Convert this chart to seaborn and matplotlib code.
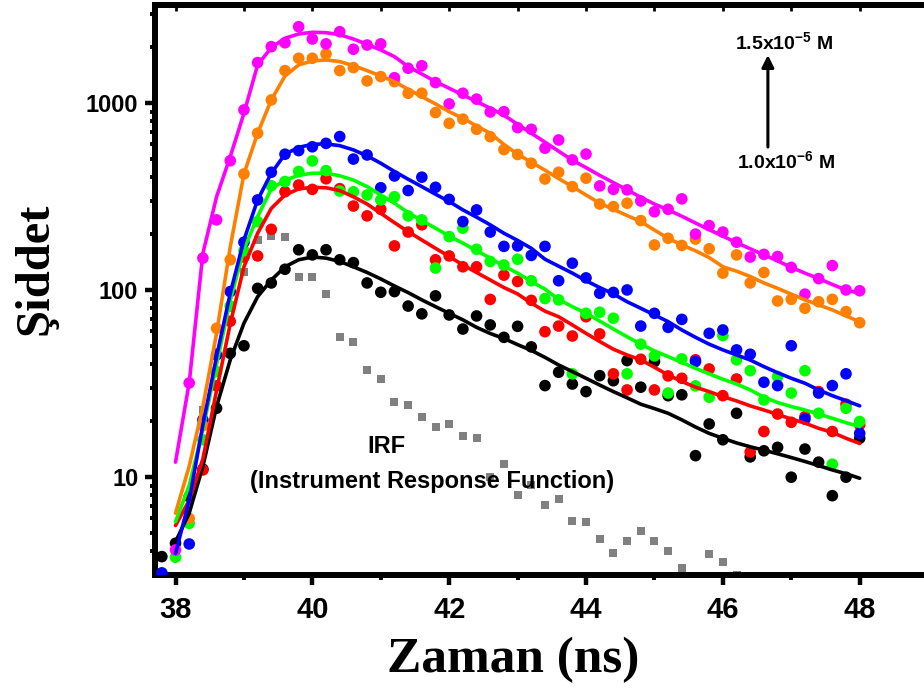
import numpy as np
import pandas as pd
import matplotlib
matplotlib.use("Agg")
import matplotlib.pyplot as plt
import seaborn as sns

# Time channels (ns)
time_ns = [37.8, 38.0, 38.2, 38.4, 38.6, 38.8, 39.0, 39.2, 39.4, 39.6,
           39.8, 40.0, 40.2, 40.4, 40.6, 40.8, 41.0, 41.2, 41.4, 41.6,
           41.8, 42.0, 42.2, 42.4, 42.6, 42.8, 43.0, 43.2, 43.4, 43.6,
           43.8, 44.0, 44.2, 44.4, 44.6, 44.8, 45.0, 45.2, 45.4, 45.6,
           45.8, 46.0, 46.2, 46.4, 46.6, 46.8, 47.0, 47.2, 47.4, 47.6,
           47.8, 48.0]
fit_time_ns = time_ns[1:]
nan = np.nan

# Measured decay counts, one array per concentration (magenta = 1.5e-5 M ... black = 1.0e-6 M)
counts_magenta = [nan, 4.07, 31.8, 148, 237, 491, 918, 1644, 2000, 2098,
                  2557, 2198, 2070, 2404, 1937, 2041, 2070, 1364, 1533, 1582,
                  1285, 988, 1127, 1048, 895, 898, 738, 723, 573, 634,
                  496, 533, 360, 345, 343, 299, 262, 270, 307, 199,
                  221, 204, 180, 150, 155, 151, 132, 95, 115, 135,
                  100, 99]
counts_orange = [nan, nan, 6.0, 18.8, 62.4, 145, 417, 689, 1038, 1489,
                 1734, 1734, 1829, 1489, 1545, 1312, 1383, 1300, 1127, 1127,
                 888, 778, 820, 723, 660, 563, 530, 476, 392, 426,
                 357, 396, 288, 279, 291, 235, 174, 189, 173, 187,
                 166, 123, 154, 109, 124, 87.3, 89.1, 79.8, 86.5, 89.1,
                 76.6, 66.8]
counts_blue = [3.07, nan, 4.38, 20.2, 44.9, 98, 180, 303, 426, 532,
               556, 583, 608, 661, 501, 527, 352, 407, 340, 401,
               354, 305, 232, 268, 204, 171, 172, 153, 171, 112,
               139, 116, 96, 97, 100, 64.1, 75, 63.1, 69.6, 41.4,
               58.6, 61.1, 47.8, 45.3, 32.1, 30.8, 50.3, 20.4, 28.1, 30.8,
               35.6, 17.1]
counts_green = [nan, 3.72, 5.65, 15.8, 36.6, 82, 162, 232, 361, 380,
                430, 490, 435, 338, 335, 322, 303, 315, 249, 237,
                131, 193, 214, 165, 142, 136, 146, 112, 90, 88.5,
                35.6, 75, 76, 70.6, 35.6, 51.3, 44.4, 28.1, 42.8, 30.7,
                26.7, 57, 42.3, 37, 25.8, 34.4, 28.1, 37.0, 21.9, 11.7,
                23.3, 19.8]
counts_red = [nan, nan, nan, 10.9, 30.7, 68, 150, 152, 211, 335,
              364, 345, 393, 348, 281, 249, 270, 172, 204, 223,
              145, 152, 133, 133, 89, 120, 111, 88, 59.8, 64.1,
              56.7, 71.9, 58.2, 35.6, 29.2, 42.6, 29.2, 34.7, 33.7, 42.3,
              37.8, 27.2, 33.4, 13.6, 17.5, 21.7, 19.6, 21, 28.6, 17.5,
              24.5, 19]
counts_black = [3.75, 4.42, 7.85, 11, 23.3, 45.8, 50.3, 102, 109, 129,
                164, 154, 164, 145, 140, 109, 97.2, 98, 82, 74.5,
                93, 73.5, 61.8, 72.6, 65, 55.8, 63.9, 49.6, 30.8, 36.3,
                31.4, 28.6, 34.8, 32.7, 41.9, 30.2, 41.4, 27.2, 27.5, 13.0,
                19.2, 15.8, 21.9, 12.8, 13.8, 14.4, 9.97, 14.1, 12.0, 7.94,
                9.97, 16.1]

# Fitted decay curves on the channels from 38.0 to 48.0 ns
fit_magenta = [12.0, 31.9, 157, 315, 516, 881, 1597, 1977, 2218, 2338,
               2388, 2376, 2318, 2198, 2059, 1920, 1769, 1564, 1428, 1300,
               1198, 1104, 1017, 937, 859, 769, 689, 617, 552, 494,
               451, 410, 375, 343, 313, 288, 268, 248, 228, 210,
               194, 179, 166, 154, 143, 132, 123, 115, 107, 100, 96]
fit_orange = [6.4, 11.4, 23.8, 58.6, 170, 417, 689, 1038, 1394, 1597,
              1678, 1698, 1664, 1584, 1489, 1394, 1300, 1183, 1081, 988,
              898, 828, 753, 689, 600, 532, 482, 437, 394, 357,
              322, 291, 270, 250, 232, 209, 189, 174, 162, 149,
              133, 126, 118, 109, 102, 95, 88.5, 83.2, 78.2, 72.6, 67.6]
fit_blue = [3.9, 7.5, 19, 44, 96, 185, 303, 421, 532, 579,
            601, 604, 591, 561, 521, 476, 430, 391, 357, 325,
            297, 268, 245, 223, 201, 184, 167, 146, 134, 123,
            112, 103, 95.2, 86.5, 79.8, 73.5, 67.7, 61.1, 55.8, 51.3,
            47.8, 44.9, 42.2, 38.9, 36.1, 33.7, 31.7, 29.2, 27.2, 25.6, 24.0]
fit_green = [5.77, 9.0, 18, 40, 88, 165, 247, 347, 387, 410,
             421, 421, 408, 387, 357, 322, 291, 259, 235, 214,
             194, 178, 162, 148, 134, 123, 111, 101, 89, 81.4,
             75, 68.2, 61.8, 56.2, 51.3, 47.2, 44.0, 41.0, 38.1, 35.6,
             33.3, 31.4, 29.2, 26.7, 25.0, 23.8, 22.8, 21.7, 20.6, 19.5, 18.6]
fit_red = [5.5, 7.5, 12.5, 29, 66, 133, 201, 273, 322, 347,
           354, 352, 340, 315, 288, 257, 229, 205, 185, 167,
           151, 136, 124, 113, 103, 95.2, 85, 77, 71.9, 65.0,
           58.6, 53.0, 48.2, 44.9, 42.3, 38.6, 35.1, 32.4, 30.2, 28.6,
           26.9, 25.5, 24.0, 22.8, 21.6, 20.4, 19.4, 18.2, 17.3, 16.1, 15.1]
fit_black = [4.5, 6.4, 11.4, 23.8, 42.3, 66.4, 92, 113, 133, 145,
             150, 148, 142, 133, 124, 114.5, 105, 96.8, 88.5, 81.4,
             75, 69.2, 63.1, 58.5, 55, 51, 47.5, 43.6, 39.7, 36.6,
             33.7, 31.0, 28.6, 26.5, 24.5, 23.2, 21.9, 20.2, 18.5, 17.1,
             16.1, 15.2, 14.5, 13.9, 13.3, 12.7, 12.1, 11.5, 10.9, 10.4, 9.84]

# Instrument response function
irf_time_ns = [38.4, 38.6, 38.8, 39.0, 39.2, 39.4, 39.6, 39.8, 40.0, 40.2,
               40.4, 40.6, 40.8, 41.0, 41.2, 41.4, 41.6, 41.8, 42.0, 42.2,
               42.4, 42.6, 42.8, 43.0, 43.2, 43.4, 43.6, 43.8, 44.0, 44.2,
               44.4, 44.6, 44.8, 45.0, 45.2, 45.4, 45.8, 46.0, 46.2]
irf_counts = [22.8, 46.8, 80, 124, 185, 194, 193, 117, 118, 95.3,
              55.8, 52.5, 37.3, 33.4, 25.3, 24.3, 21.0, 18.5, 19.1, 16.6,
              16.2, 10.0, 11.8, 8.0, 9.06, 7.08, 7.60, 5.84, 5.77, 4.64,
              3.94, 4.55, 5.14, 4.55, 4.02, 3.25, 3.86, 3.52, 3.0]

series_order = ["black", "red", "green", "blue", "orange", "magenta"]
palette = {"magenta": "#FF00FF", "orange": "#FF8000", "blue": "#0000FF",
           "green": "#00FF00", "red": "#FF0000", "black": "#000000"}
counts = {"magenta": counts_magenta, "orange": counts_orange, "blue": counts_blue,
          "green": counts_green, "red": counts_red, "black": counts_black}
fits = {"magenta": fit_magenta, "orange": fit_orange, "blue": fit_blue,
        "green": fit_green, "red": fit_red, "black": fit_black}

points = pd.concat([pd.DataFrame({"time": time_ns, "counts": counts[k], "series": k})
                    for k in series_order], ignore_index=True).dropna()
curves = pd.concat([pd.DataFrame({"time": fit_time_ns, "fit": fits[k], "series": k})
                    for k in series_order], ignore_index=True)
irf = pd.DataFrame({"time": irf_time_ns, "counts": irf_counts})

sns.set_theme(style="ticks")
plt.rcParams["font.family"] = ["Liberation Sans", "DejaVu Sans"]
plt.rcParams["text.color"] = "black"
plt.rcParams["axes.labelcolor"] = "black"
plt.rcParams["xtick.color"] = "black"
plt.rcParams["ytick.color"] = "black"
plt.rcParams["mathtext.fontset"] = "custom"
plt.rcParams["mathtext.rm"] = "Liberation Sans:bold"
plt.rcParams["mathtext.it"] = "Liberation Sans:bold"
plt.rcParams["mathtext.bf"] = "Liberation Sans:bold"

fig = plt.figure(figsize=(9.24, 6.91), dpi=100)
ax = fig.add_axes([155 / 924, 116 / 691, 769 / 924, 569.5 / 691])
ax.set_yscale("log")

sns.scatterplot(data=irf, x="time", y="counts", marker="s", color="#808080",
                s=40, linewidth=0, ax=ax, legend=False, zorder=2)
sns.scatterplot(data=points, x="time", y="counts", hue="series", palette=palette,
                hue_order=series_order, s=70, linewidth=0, ax=ax, legend=False, zorder=3)
sns.lineplot(data=curves, x="time", y="fit", hue="series", palette=palette,
             hue_order=series_order, lw=2.6, estimator=None, sort=False,
             ax=ax, legend=False, zorder=4)

ax.set_xlim(37.70, 48.94)
ax.set_ylim(2.99, 3320)

# Frame
for side in ["left", "bottom", "top"]:
    ax.spines[side].set_linewidth(4.3)
    ax.spines[side].set_color("black")
ax.spines["right"].set_visible(False)

ax.set_xticks([38, 40, 42, 44, 46, 48])
ax.set_xticks([39, 41, 43, 45, 47], minor=True)
ax.set_yticks([10, 100, 1000])
ax.set_yticks([4, 5, 6, 7, 8, 9, 20, 30, 40, 50, 60, 70, 80, 90,
               200, 300, 400, 500, 600, 700, 800, 900, 2000, 3000], minor=True)
ax.set_yticklabels(["10", "100", "1000"])
ax.set_xticklabels(["38", "40", "42", "44", "46", "48"])
ax.yaxis.set_minor_formatter(matplotlib.ticker.NullFormatter())

ax.tick_params(axis="both", which="major", direction="out", length=7, width=3.2,
               color="black")
ax.tick_params(axis="both", which="minor", direction="out", length=3.5, width=2.8,
               color="black")
ax.tick_params(axis="x", which="major", pad=8)
ax.tick_params(axis="y", which="major", pad=5)
for lbl in ax.get_xticklabels():
    lbl.set_fontfamily(["Liberation Sans Narrow", "Liberation Sans"])
    lbl.set_fontweight("bold")
    lbl.set_fontsize(21)
for lbl in ax.get_yticklabels():
    lbl.set_fontfamily(["Liberation Sans", "DejaVu Sans"])
    lbl.set_fontweight("bold")
    lbl.set_fontsize(17)

# Small inward ticks along the top frame
top = ax.secondary_xaxis("top")
top.set_xticks([38, 39, 40, 41, 42, 43, 44, 45, 46, 47, 48])
top.tick_params(axis="x", direction="in", length=4, width=2, color="black",
                labeltop=False)
top.spines["top"].set_linewidth(4.3)

ax.set_xlabel("Zaman (ns)", family=["Liberation Serif", "DejaVu Serif"],
              fontweight="bold", fontsize=37, va="center")
ax.xaxis.set_label_coords(0.4655, -0.15)
ax.set_ylabel("Şiddet", family=["Liberation Serif", "DejaVu Serif"],
              fontweight="bold", fontsize=35, va="center")
ax.yaxis.set_label_coords(-0.156, 0.537)

# Concentration arrow
ax.annotate("", xy=(0.797, 0.913), xytext=(0.797, 0.7515), xycoords="axes fraction",
            arrowprops=dict(arrowstyle="-|>", lw=2.2, color="black",
                            mutation_scale=18, shrinkA=0, shrinkB=0))
ax.text(0.818, 0.9236, r"1.5x10$^{-5}$ M", transform=ax.transAxes, ha="center",
        va="baseline", fontsize=14, fontweight="bold")
ax.text(0.8205, 0.7147, r"1.0x10$^{-6}$ M", transform=ax.transAxes, ha="center",
        va="baseline", fontsize=14, fontweight="bold")

ax.text(0.3004, 0.2265, "IRF", transform=ax.transAxes, ha="center", va="center",
        fontsize=17, fontweight="bold", zorder=5)
ax.text(0.360, 0.165, "(Instrument Response Function)", transform=ax.transAxes,
        ha="center", va="center", fontsize=17, fontweight="bold", zorder=5)

fig.savefig("out.png", dpi=100)
